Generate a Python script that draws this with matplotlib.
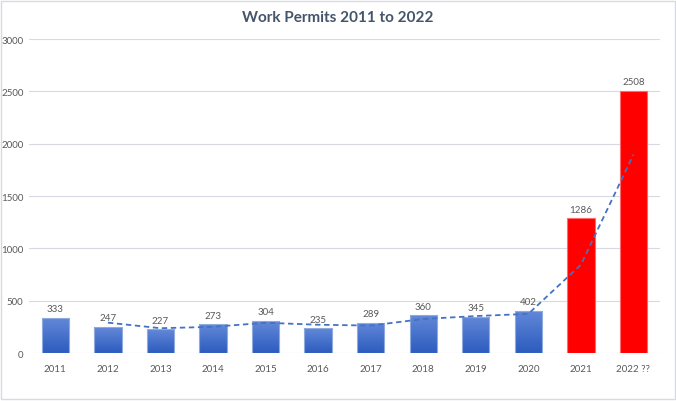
import numpy as np
import matplotlib
matplotlib.use('Agg')
import matplotlib.pyplot as plt
from matplotlib.patches import Rectangle

plt.rcParams['font.family'] = ['Lato', 'DejaVu Sans']

# Dados
anos = ['2011', '2012', '2013', '2014', '2015', '2016', '2017', '2018', '2019', '2020', '2021', '2022 ??']
permits = [333, 247, 227, 273, 304, 235, 289, 360, 345, 402, 1286, 2508]
# media movel (2 periodos), a partir de 2012
trend = [290, 237, 250, 289, 270, 262, 325, 353, 374, 844, 1897]
destaque = ['2021', '2022 ??']

fig = plt.figure(figsize=(6.76, 4.02), dpi=100)
ax = fig.add_axes([0.043, 0.1194, 0.933, 0.781])

x = np.arange(len(anos))
largura = 0.52
bars = ax.bar(x, permits, width=largura, color='none', edgecolor='none', zorder=2)

# gradiente azul nas barras normais, vermelho nas destacadas
grad = np.linspace(0, 1, 256).reshape(-1, 1)
cmap = matplotlib.colors.LinearSegmentedColormap.from_list('azul', ['#2c5cbf', '#6388d8'])
for b, ano in zip(bars, anos):
    x0, y0 = b.get_x(), b.get_y()
    w, h = b.get_width(), b.get_height()
    if ano in destaque:
        ax.add_patch(Rectangle((x0, y0), w, h, facecolor='#ff0000', edgecolor='#ff6b6b', lw=0.8, zorder=2))
    else:
        im = ax.imshow(grad, cmap=cmap, aspect='auto', origin='lower',
                       extent=[x0, x0 + w, y0, y0 + h], zorder=2)
        r = Rectangle((x0, y0), w, h, facecolor='none', edgecolor='#8eaadf', lw=0.8, zorder=3)
        ax.add_patch(r)
        im.set_clip_path(r)

# rotulos de dados
for xi, v in zip(x, permits):
    ax.text(xi, v + 45, str(v), ha='center', va='bottom', fontsize=7, color='#595959')

# linha de tendencia
ax.plot(x[1:], trend, color='#4472c4', lw=1.3, ls=(0, (3, 2)), zorder=4)

ax.set_xlim(-0.5, len(anos) - 0.5)
ax.set_ylim(0, 3000)
ax.set_yticks(range(0, 3001, 500))
ax.set_xticks(x)
ax.set_xticklabels(anos)
ax.tick_params(axis='both', length=0, labelsize=7, labelcolor='#595959')
ax.tick_params(axis='x', pad=8)
ax.tick_params(axis='y', pad=4)
ax.grid(axis='y', color='#d9d9e6', lw=0.8, zorder=0)
ax.set_axisbelow(True)
for s in ax.spines.values():
    s.set_visible(False)

fig.text(0.5, 0.955, 'Work Permits 2011 to 2022', ha='center', va='center',
         fontsize=11, fontweight='bold', color='#44546a')

# moldura
fig.add_artist(Rectangle((0.002, 0.005), 0.996, 0.99, transform=fig.transFigure,
                         fill=False, edgecolor='#d9d9e6', lw=1))

fig.savefig('out.png', dpi=100)
